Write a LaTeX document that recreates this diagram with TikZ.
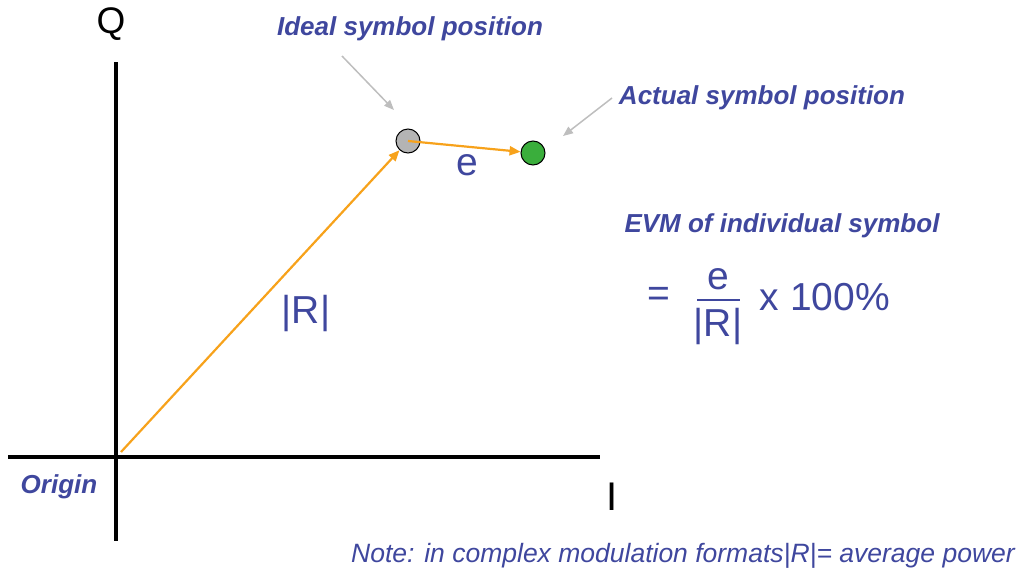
\documentclass[tikz,border=0pt]{standalone}
\usepackage{fontspec}
\setmainfont{Liberation Sans}
\usepackage{xcolor}
\usetikzlibrary{arrows.meta}

\definecolor{evmblue}{HTML}{3F479E}
\definecolor{vecorange}{HTML}{F7A21B}
\definecolor{idealgray}{HTML}{B4B4B4}
\definecolor{actualgreen}{HTML}{3AAE3C}
\definecolor{pointergray}{HTML}{BEBEBE}

\tikzset{
  axis/.style={line width=4pt},
  callout/.style={text=evmblue, font=\fontsize{26}{30}\selectfont\bfseries\itshape},
  bigtext/.style={text=evmblue, font=\fontsize{39}{44}\selectfont},
  vec/.style={vecorange, line width=2.2pt, -{Triangle[length=11pt,width=9pt]}},
  pointer/.style={pointergray, line width=1.5pt, -{Triangle[length=10pt,width=8pt]}},
  symb/.style={circle, draw=black, line width=1pt, minimum size=24pt, inner sep=0pt}
}

\begin{document}
\begin{tikzpicture}[x=1pt, y=-1pt]
    \useasboundingbox (0,0) rectangle (1023,573);

    % axes
    \coordinate (iL) at (8,457);
    \coordinate (iR) at (600,457);
    \coordinate (qT) at (116,62);
    \coordinate (qB) at (116,541);
    \draw[axis] (iL) -- (iR);
    \draw[axis] (qT) -- (qB);
    \node (qlab) at (111,24) {\fontsize{37}{42}\selectfont Q};
    \node (ilab) at (612,497) {\fontsize{40}{44}\selectfont I};
    \node[callout] (origin) at (59,487) {Origin};

    % symbols
    \coordinate (O) at (121,452);
    \node[symb, fill=idealgray] (ideal) at (408,141) {};
    \node[symb, fill=actualgreen] (actual) at (533,153) {};

    % vectors
    \draw[vec] (O) -- (ideal);
    \draw[vec] (ideal.center) -- (actual);
    \node[bigtext] (rlab) at (306,313) {|R|};
    \node[bigtext] (elab) at (467,165) {e};

    % callouts
    \node[callout] (idealtxt) at (410,29) {Ideal symbol position};
    \node[callout] (actualtxt) at (762,98) {Actual symbol position};
    \coordinate (idealfrom) at (342,56);
    \coordinate (idealto) at (394,110);
    \coordinate (actualfrom) at (612,98);
    \coordinate (actualto) at (563,136);
    \draw[pointer] (idealfrom) -- (idealto);
    \draw[pointer] (actualfrom) -- (actualto);

    % EVM formula
    \node[callout] (evmtxt) at (782,226) {EVM of individual symbol};
    \node[bigtext] (eq) at (659,297) {=};
    \node[bigtext] (num) at (718,279) {e};
    \node[bigtext] (den) at (718,326) {|R|};
    \coordinate (barL) at (697,300);
    \coordinate (barR) at (740,300);
    \draw[evmblue, line width=2pt] (barL) -- (barR);
    \node[bigtext] (pct) at (825,297) {x 100\%};

    % note
    \node[text=evmblue, font=\fontsize{26.5}{30}\selectfont\itshape] (note) at (683,556)
        {Note: in complex modulation formats|R|= average power};
\end{tikzpicture}
\end{document}
